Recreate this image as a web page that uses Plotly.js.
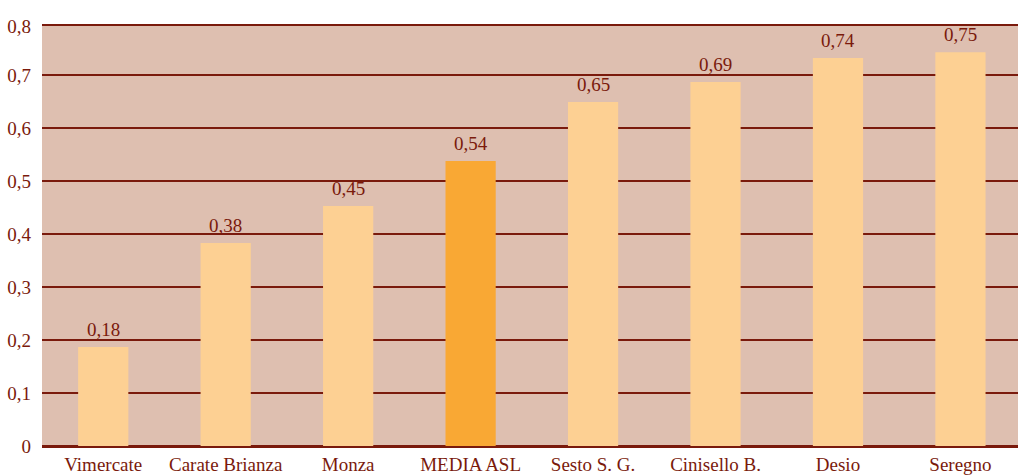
<!DOCTYPE html>
<html>
<head>
<meta charset="utf-8">
<script src="https://cdn.plot.ly/plotly-3.0.1.min.js"></script>
<style>html,body{margin:0;padding:0;background:#fff;}#chart{width:1018px;height:475px;}</style>
</head>
<body>
<div id="chart"></div>
<script>
const categories = ["Vimercate", "Carate Brianza", "Monza", "MEDIA ASL", "Sesto S. G.", "Cinisello B.", "Desio", "Seregno"];
const values = [0.187, 0.383, 0.453, 0.538, 0.649, 0.687, 0.732, 0.743];
const valueLabels = ["0,18", "0,38", "0,45", "0,54", "0,65", "0,69", "0,74", "0,75"];
const highlight = "MEDIA ASL";
const yTickVals = [0, 0.1, 0.2, 0.3, 0.4, 0.5, 0.6, 0.7, 0.7925];
const yTickText = ["0", "0,1", "0,2", "0,3", "0,4", "0,5", "0,6", "0,7", "0,8"];

const dark = "#7A1A0C";
const font = {family: "Liberation Serif, Times New Roman, serif", size: 19, color: dark};

const trace = {
  type: "bar",
  x: categories,
  y: values,
  width: 0.41,
  marker: {color: categories.map(c => c === highlight ? "#F9A834" : "#FDD093"), line: {width: 0}},
  hoverinfo: "none"
};

const annotations = categories.map((c, i) => ({
  x: c, y: values[i], xref: "x", yref: "y",
  text: valueLabels[i],
  showarrow: false, yanchor: "bottom", yshift: 5,
  font: font
}));

const layout = {
  width: 1018, height: 475,
  margin: {l: 42, r: 0, t: 26, b: 29, pad: 0},
  paper_bgcolor: "#ffffff",
  plot_bgcolor: "#DEBFB0",
  font: font,
  showlegend: false,
  annotations: annotations,
  xaxis: {
    range: [-0.5, 7.47],
    showgrid: false, zeroline: false,
    showline: true, mirror: true, linecolor: dark, linewidth: 2,
    ticks: "", tickfont: font, fixedrange: true
  },
  yaxis: {
    range: [0, 0.7925],
    tickvals: yTickVals, ticktext: yTickText,
    showgrid: true, gridcolor: dark, gridwidth: 2,
    zeroline: true, zerolinecolor: dark, zerolinewidth: 2,
    showline: false, ticks: "", ticklabelstandoff: 10,
    tickfont: font, fixedrange: true
  }
};

Plotly.newPlot("chart", [trace], layout, {displayModeBar: false, staticPlot: true});
</script>
</body>
</html>
